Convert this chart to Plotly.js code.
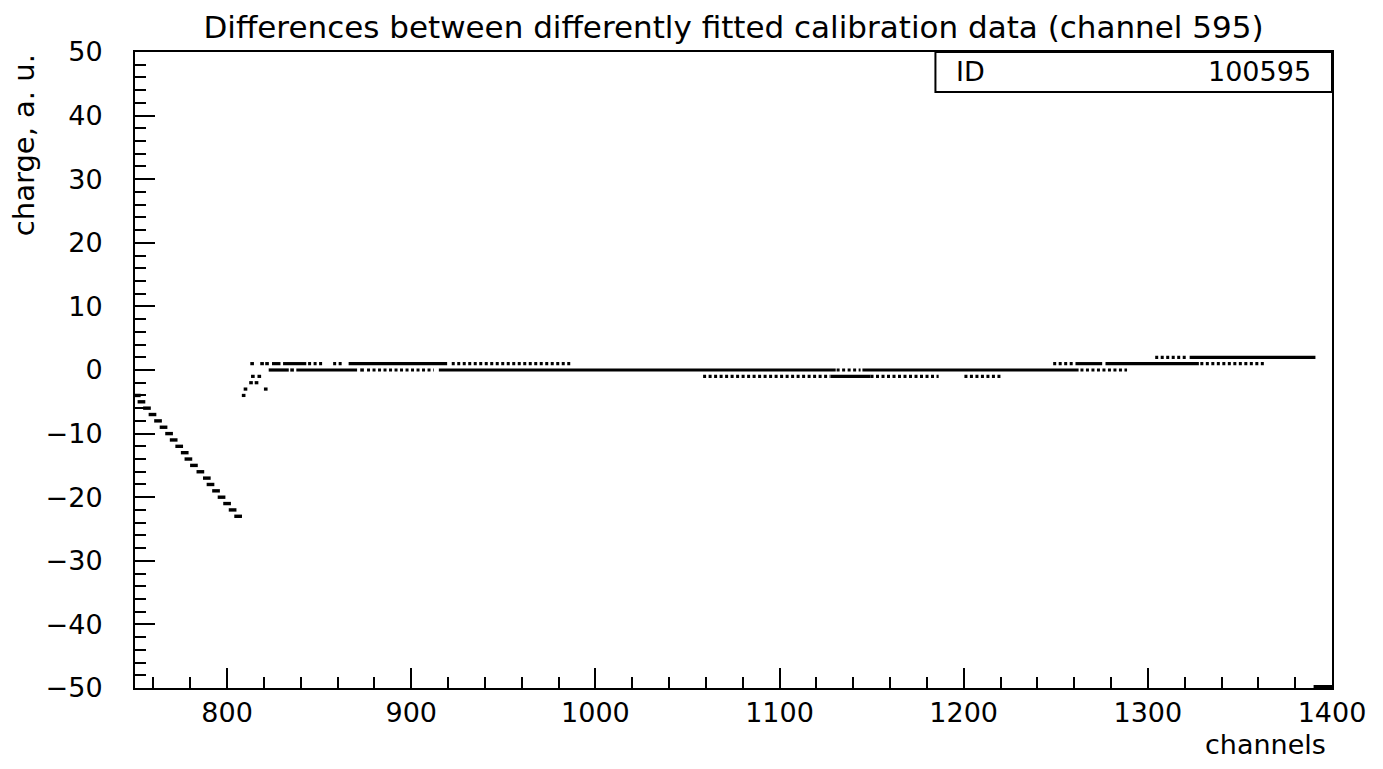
<!DOCTYPE html>
<html>
<head>
<meta charset="utf-8">
<script src="https://cdn.plot.ly/plotly-3.0.1.min.js"></script>
<style>html,body{margin:0;padding:0;background:#fff;}#chart{width:1383px;height:769px;}</style>
</head>
<body>
<div id="chart"></div>
<script>
// ---- data ----
// falling part before the jump (one short dash per level)
const slopeX = [751, 753.5, 756.5, 759.5, 762.5, 765.5, 768.5, 771, 774, 777, 779, 782, 785.5, 789, 791, 794, 797, 800, 803, 806];
const slopeY = [-4, -5, -6, -7, -8, -9, -10, -11, -12, -13, -14, -15, -16, -17, -18, -19, -20, -21, -22, -23];
// isolated points around the jump
const pointX = [809, 810, 821, 813, 816, 814, 817.5, 835.3, 873.3, 813.6, 819, 821.7];
const pointY = [-4, -3, -3, -2, -2, -1, -1, 0, 0, 1, 1, 1];
// continuous runs of points (start channel, end channel, value)
const solidStart = [824.4, 830.4, 866, 1260.7, 1277, 822.6, 837.6, 915, 1145, 1127.7, 1322.7];
const solidEnd   = [829, 843, 919.5, 1275.2, 1327.7, 833.5, 870.6, 1130.5, 1262.4, 1149.4, 1391];
const solidLevel = [1, 1, 1, 1, 1, 0, 0, 0, 0, -1, 2];
// sparse (dotted) runs of points
const dotStart = [844, 857.6, 922, 1248.6, 1328.5, 876, 1131, 1263.4, 1058.5, 1149.4, 1200.4, 1304];
const dotEnd   = [852, 863, 986.4, 1259.7, 1363.8, 912.2, 1144, 1288.7, 1127.6, 1186.4, 1221, 1321.3];
const dotLevel = [1, 1, 1, 1, 1, 0, 0, 0, -1, -1, -1, 2];
// underflow run at the end
const underStart = [1390];
const underEnd = [1400];
const underLevel = [-50];

function segs(s, e, v) {
  const x = [], y = [];
  for (let i = 0; i < s.length; i++) {
    x.push(s[i], e[i], null);
    y.push(v[i], v[i], null);
  }
  return {x, y};
}
const sSolid = segs(solidStart, solidEnd, solidLevel);
const sDot = segs(dotStart, dotEnd, dotLevel);
const sUnder = segs(underStart, underEnd, underLevel);

const traces = [
  {type:'scatter', mode:'lines', x:sSolid.x, y:sSolid.y, connectgaps:false,
   line:{color:'#000', width:3.2}, hoverinfo:'skip', showlegend:false},
  {type:'scatter', mode:'lines', x:sDot.x, y:sDot.y, connectgaps:false,
   line:{color:'#000', width:3.2, dash:'3px,2.5px'}, hoverinfo:'skip', showlegend:false},
  {type:'scatter', mode:'lines', x:sUnder.x, y:sUnder.y, connectgaps:false,
   line:{color:'#000', width:6}, hoverinfo:'skip', showlegend:false},
  {type:'scatter', mode:'markers', x:slopeX, y:slopeY,
   marker:{symbol:'line-ew', size:5.5, color:'#000', line:{color:'#000', width:3.4}},
   hoverinfo:'skip', showlegend:false},
  {type:'scatter', mode:'markers', x:pointX, y:pointY,
   marker:{symbol:'line-ew', size:2.6, color:'#000', line:{color:'#000', width:3.2}},
   hoverinfo:'skip', showlegend:false}
];

const fam = 'DejaVu Sans, sans-serif';
const layout = {
  width:1383, height:769,
  margin:{l:135, r:51, t:52, b:81},
  paper_bgcolor:'#fff', plot_bgcolor:'#fff',
  font:{family:fam, size:27, color:'#000'},
  title:{text:'Differences between differently fitted calibration data (channel 595)',
         font:{family:fam, size:31, color:'#000'},
         xref:'paper', x:0.5, xanchor:'center', yref:'container', y:0.965, yanchor:'middle'},
  xaxis:{range:[750,1400], tick0:0, dtick:100, ticks:'inside', ticklen:20, tickwidth:2, tickcolor:'#000',
         showline:true, linewidth:2, linecolor:'#000', mirror:true, showgrid:false, zeroline:false,
         ticklabelstandoff:0, tickfont:{family:fam, size:27, color:'#000'},
         minor:{dtick:20, ticks:'inside', ticklen:11, tickwidth:2, tickcolor:'#000', showgrid:false}},
  yaxis:{range:[-50,50], tick0:0, dtick:10, ticks:'inside', ticklen:20, tickwidth:2, tickcolor:'#000',
         showline:true, linewidth:2, linecolor:'#000', mirror:true, showgrid:false, zeroline:false,
         ticklabelstandoff:25, tickfont:{family:fam, size:27, color:'#000'},
         minor:{dtick:2, ticks:'inside', ticklen:11, tickwidth:2, tickcolor:'#000', showgrid:false}},
  shapes:[
    {type:'rect', xref:'paper', yref:'paper', x0:0.6687, x1:1, y0:0.9371, y1:1,
     line:{color:'#000', width:2}, fillcolor:'#fff', layer:'above'}
  ],
  annotations:[
    {text:'ID', xref:'paper', yref:'paper', x:0.684, y:0.9686, xanchor:'left', yanchor:'middle',
     showarrow:false, font:{family:fam, size:27, color:'#000'}},
    {text:'100595', xref:'paper', yref:'paper', x:0.9845, y:0.9686, xanchor:'right', yanchor:'middle',
     showarrow:false, font:{family:fam, size:27, color:'#000'}},
    {text:'channels', xref:'paper', yref:'paper', x:0.9963, y:-0.062, xanchor:'right', yanchor:'top',
     showarrow:false, font:{family:fam, size:27, color:'#000'}},
    {text:'charge, a. u.', xref:'paper', yref:'paper', x:-0.1085, y:1.0, xanchor:'left', yanchor:'top',
     textangle:-90, showarrow:false, font:{family:fam, size:29, color:'#000'}}
  ]
};

Plotly.newPlot('chart', traces, layout, {displayModeBar:false, staticPlot:true});
</script>
</body>
</html>
